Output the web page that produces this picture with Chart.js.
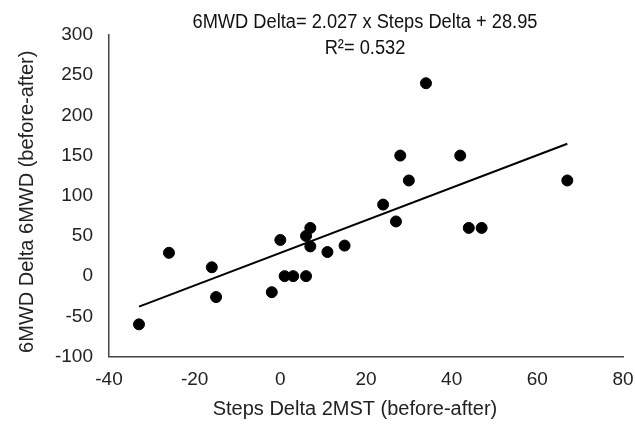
<!DOCTYPE html>
<html>
<head>
<meta charset="utf-8">
<script src="https://cdn.jsdelivr.net/npm/chart.js@4"></script>
<style>
html,body{margin:0;padding:0;background:#fff;}
#wrap{width:635px;height:426px;}
</style>
</head>
<body>
<div id="wrap"><canvas id="c" width="635" height="426"></canvas></div>
<script>
const stepsDelta = [-33,-26,-16,-15,-2,0,1,3,6,6,7,7,11,15,24,27,30,44,47,67,34,28,42];
const walkDelta  = [-60,29,11,-26,-20,45,0,0,0,50,60,37,30,38,89,68,119,60,60,119,240,150,150];
const trendX = [-33, 67];
const trendY = [-37.94, 164.76];
const xTicks = [-40,-20,0,20,40,60,80];
const yTicks = [-100,-50,0,50,100,150,200,250,300];
const eqLine1 = "6MWD Delta= 2.027 x Steps Delta + 28.95";
const eqLine2 = "R\u00B2= 0.532";
const xTitle = "Steps Delta 2MST (before-after)";
const yTitle = "6MWD Delta 6MWD (before-after)";

const FONT = "'Liberation Sans', Arial, sans-serif";

const textPlugin = {
  id: 'texts',
  afterDraw(chart) {
    const ctx = chart.ctx;
    const a = chart.chartArea;
    const cx = (a.left + a.right) / 2 - 1;
    ctx.save();
    ctx.fillStyle = '#111';
    ctx.font = '20px ' + FONT;
    const w = ctx.measureText(eqLine1).width;
    const sx = 345 / w;
    ctx.translate(cx, 0);
    ctx.scale(sx, 1);
    ctx.textAlign = 'center';
    ctx.textBaseline = 'middle';
    ctx.fillText(eqLine1, 0, 22);
    ctx.fillText(eqLine2, 0, 48);
    ctx.restore();

    ctx.save();
    ctx.fillStyle = '#222';
    ctx.font = '20px ' + FONT;
    ctx.textAlign = 'center';
    ctx.textBaseline = 'middle';
    ctx.fillText(xTitle, cx - 10, 409);
    ctx.translate(27, (a.top + a.bottom) / 2 + 6);
    ctx.rotate(-Math.PI / 2);
    ctx.fillText(yTitle, 0, 0);
    ctx.restore();
  }
};

new Chart(document.getElementById('c'), {
  type: 'scatter',
  data: {
    datasets: [
      {
        data: stepsDelta.map((x, i) => ({x: x, y: walkDelta[i]})),
        backgroundColor: '#000',
        borderColor: '#000',
        pointRadius: 5.5,
        pointHoverRadius: 5.5,
        order: 1
      },
      {
        type: 'line',
        data: trendX.map((x, i) => ({x: x, y: trendY[i]})),
        borderColor: '#000',
        borderWidth: 2,
        pointRadius: 0,
        fill: false,
        order: 2
      }
    ]
  },
  options: {
    responsive: false,
    animation: false,
    events: [],
    layout: {padding: {top: 35, right: 12, left: 0, bottom: 0}},
    plugins: {legend: {display: false}, tooltip: {enabled: false}},
    scales: {
      x: {
        type: 'linear',
        min: -40, max: 80,
        afterBuildTicks(s) { s.ticks = xTicks.map(v => ({value: v})); },
        afterFit(s) { s.height = 69.5; s.paddingLeft = 0; s.paddingRight = 0; },
        grid: {display: false, drawTicks: false},
        border: {display: true, color: '#444', width: 1.5},
        ticks: {color: '#222', font: {family: FONT, size: 19}, padding: 12, maxRotation: 0},
        title: {display: false}
      },
      y: {
        type: 'linear',
        min: -100, max: 300,
        afterBuildTicks(s) { s.ticks = yTicks.map(v => ({value: v})); },
        afterFit(s) { s.width = 109; s.paddingTop = 0; s.paddingBottom = 0; },
        grid: {display: false, drawTicks: false},
        border: {display: true, color: '#444', width: 1.5},
        ticks: {color: '#222', font: {family: FONT, size: 19}, padding: 16},
        title: {display: false}
      }
    }
  },
  plugins: [textPlugin]
});
</script>
</body>
</html>
